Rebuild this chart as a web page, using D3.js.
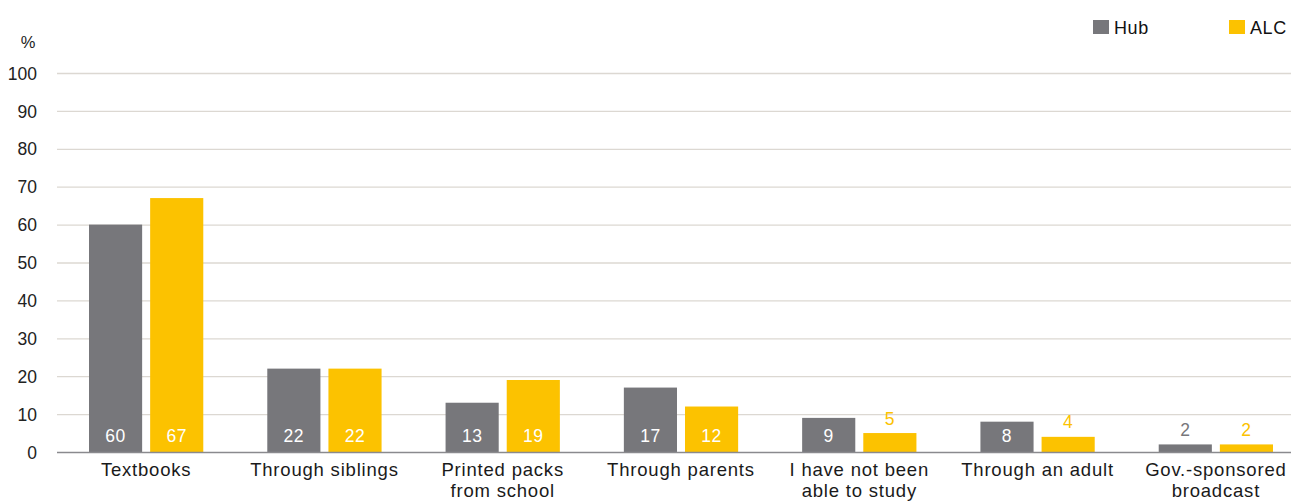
<!DOCTYPE html>
<html>
<head>
<meta charset="utf-8">
<script src="https://cdn.jsdelivr.net/npm/d3@7"></script>
<style>
  html, body { margin: 0; padding: 0; background: #fff; }
  svg text { font-family: "Liberation Sans", Arial, Helvetica, sans-serif; }
</style>
</head>
<body>
<svg id="chart" width="1291" height="501"></svg>
<script>
// Study-at-home sources, share of respondents by group
const categories = [
  ["Textbooks"],
  ["Through siblings"],
  ["Printed packs", "from school"],
  ["Through parents"],
  ["I have not been", "able to study"],
  ["Through an adult"],
  ["Gov.-sponsored", "broadcast"]
];
const seriesNames = ["Hub", "ALC"];
const hubValues = [60, 22, 13, 17, 9, 8, 2];
const alcValues = [67, 22, 19, 12, 5, 4, 2];
const yTicks = [0, 10, 20, 30, 40, 50, 60, 70, 80, 90, 100];

const colors = { Hub: "#77777b", ALC: "#fcc200" };

const svg = d3.select("#chart");
const W = 1291, H = 501;
const plot = { left: 57, right: 1305, top: 73, bottom: 452 };

const x = d3.scaleBand()
  .domain(d3.range(categories.length))
  .range([plot.left, plot.right])
  .paddingInner(0)
  .paddingOuter(0);

const xInner = d3.scaleBand()
  .domain(seriesNames)
  .range([32, x.bandwidth() - 32])
  .paddingInner(0.131);

const y = d3.scaleLinear().domain([0, 100]).range([plot.bottom, plot.top]);

// grid
svg.append("g")
  .selectAll("line")
  .data(yTicks.filter(d => d > 0))
  .join("line")
  .attr("x1", plot.left).attr("x2", W)
  .attr("y1", d => y(d) + 0.5).attr("y2", d => y(d) + 0.5)
  .attr("stroke", "#dcd8d2").attr("stroke-width", 1.3);

// y axis labels
const yAxis = d3.axisLeft(y).tickValues(yTicks).tickSize(0).tickPadding(0);
const gy = svg.append("g").attr("transform", `translate(37,0)`).call(yAxis);
gy.select(".domain").remove();
gy.selectAll("text")
  .attr("font-size", 17.5)
  .attr("font-family", "'Liberation Sans', Arial, sans-serif")
  .attr("fill", "#222")
  .attr("dy", "0.35em");

svg.append("text")
  .attr("x", 28).attr("y", 48)
  .attr("text-anchor", "middle")
  .attr("font-size", 16.5)
  .attr("fill", "#222")
  .text("%");

// bars
const rows = categories.map((c, i) => ({ i, values: [
  { key: "Hub", v: hubValues[i] },
  { key: "ALC", v: alcValues[i] }
]}));

const groups = svg.append("g")
  .selectAll("g")
  .data(rows)
  .join("g")
  .attr("transform", d => `translate(${x(d.i)},0)`);

groups.selectAll("rect")
  .data(d => d.values)
  .join("rect")
  .attr("x", d => xInner(d.key))
  .attr("width", xInner.bandwidth())
  .attr("y", d => y(d.v))
  .attr("height", d => y(0) - y(d.v))
  .attr("fill", d => colors[d.key]);

// value labels: inside the bar when it is tall enough, above it otherwise
const inside = d => (y(0) - y(d.v)) > 28;
groups.selectAll("text.val")
  .data(d => d.values)
  .join("text")
  .attr("class", "val")
  .attr("x", d => xInner(d.key) + xInner.bandwidth() / 2)
  .attr("y", d => inside(d) ? y(0) - 10 : y(d.v) - 8.5)
  .attr("text-anchor", "middle")
  .attr("font-size", 17.5)
  .attr("letter-spacing", 0.5)
  .attr("fill", d => inside(d) ? "#fff" : colors[d.key])
  .text(d => d.v);

// baseline
svg.append("line")
  .attr("x1", plot.left).attr("x2", W)
  .attr("y1", y(0) + 0.5).attr("y2", y(0) + 0.5)
  .attr("stroke", "#8a8a8e").attr("stroke-width", 1.3);

// category labels
const xl = svg.append("g");
categories.forEach((lines, i) => {
  const cx = x(i) + x.bandwidth() / 2;
  const t = xl.append("text")
    .attr("x", cx)
    .attr("y", 476)
    .attr("text-anchor", "middle")
    .attr("font-size", 18.5)
    .attr("letter-spacing", 0.8)
    .attr("fill", "#1a1a1a");
  lines.forEach((s, k) => {
    t.append("tspan")
      .attr("x", cx)
      .attr("dy", k === 0 ? 0 : 20.5)
      .text(s);
  });
});

// legend
const legend = svg.append("g");
const legendItems = [
  { key: "Hub", x: 1093 },
  { key: "ALC", x: 1229 }
];
legend.selectAll("rect")
  .data(legendItems)
  .join("rect")
  .attr("x", d => d.x).attr("y", 20)
  .attr("width", 16).attr("height", 14)
  .attr("fill", d => colors[d.key]);
legend.selectAll("text")
  .data(legendItems)
  .join("text")
  .attr("x", d => d.x + 21).attr("y", 33.5)
  .attr("font-size", 18)
  .attr("letter-spacing", 0.6)
  .attr("fill", "#111")
  .text(d => d.key);
</script>
</body>
</html>
